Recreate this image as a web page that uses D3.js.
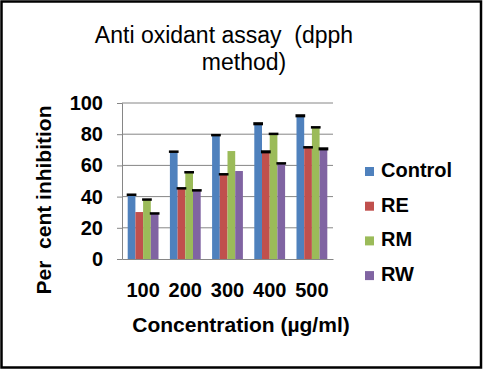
<!DOCTYPE html>
<html>
<head>
<meta charset="utf-8">
<script src="https://cdn.jsdelivr.net/npm/d3@7"></script>
<style>
  body { margin: 0; background: #fff; }
  svg { display: block; font-family: Arial, "Liberation Sans", sans-serif; }
  text { white-space: pre; }
</style>
</head>
<body>
<script>
// Datos
const categories = ["100", "200", "300", "400", "500"];
const seriesNames = ["Control", "RE", "RM", "RW"];
const control = [41.2, 68.8, 79.4, 86.7, 91.8];
const re = [30.1, 45.3, 54.3, 68.7, 71.6];
const rm = [38.1, 55.6, 69.2, 80.2, 84.4];
const rw = [29.2, 44.0, 56.4, 61.3, 70.6];
// barras de error (pequeñas), 0 = sin barra
const controlErr = [0.8, 0.8, 0.8, 1.0, 1.0];
const reErr = [0, 0.8, 0.8, 1.0, 0.8];
const rmErr = [0.8, 0.8, 0, 0.8, 0.8];
const rwErr = [0.8, 0.8, 0, 0.8, 1.0];
const yTicks = [0, 20, 40, 60, 80, 100];

const colors = ["#4F81BD", "#C0504D", "#9BBB59", "#8064A2"];
const allValues = [control, re, rm, rw];
const allErrs = [controlErr, reErr, rmErr, rwErr];

const width = 484;
const height = 371;
const plot = { left: 122, right: 333, top: 103, bottom: 259 };
const font = "Arial, 'Liberation Sans', sans-serif";

const svg = d3.select("body").append("svg")
  .attr("width", width)
  .attr("height", height);

// Borde exterior
svg.append("rect")
  .attr("x", 1.5).attr("y", 1.5)
  .attr("width", 479.5).attr("height", 366)
  .attr("fill", "#fff")
  .attr("stroke", "#000")
  .attr("stroke-width", 2.5);

const x0 = d3.scaleBand()
  .domain(categories)
  .range([plot.left, plot.right])
  .paddingInner(0.27)
  .paddingOuter(0.135);

const x1 = d3.scaleBand()
  .domain(seriesNames)
  .range([0, x0.bandwidth()]);

const y = d3.scaleLinear()
  .domain([0, 100])
  .range([plot.bottom, plot.top]);

// Líneas de cuadrícula
svg.append("g")
  .selectAll("line")
  .data(yTicks.filter(d => d > 0))
  .enter()
  .append("line")
  .attr("x1", plot.left).attr("x2", plot.right)
  .attr("y1", d => y(d)).attr("y2", d => y(d))
  .attr("stroke", "#868686")
  .attr("stroke-width", 1);

// Eje Y
const yAxis = svg.append("g")
  .attr("transform", `translate(${plot.left},0)`)
  .call(d3.axisLeft(y).tickValues(yTicks).tickSize(5).tickPadding(14));
yAxis.select(".domain").attr("stroke", "#868686");
yAxis.selectAll(".tick line").attr("stroke", "#868686");
yAxis.selectAll("text")
  .attr("font-size", 20)
  .attr("font-weight", "bold")
  .attr("fill", "#000")
  .style("font-family", font);

// Eje X
const xAxis = svg.append("g")
  .attr("transform", `translate(0,${plot.bottom})`)
  .call(d3.axisBottom(x0).tickSize(0).tickPadding(24).tickSizeOuter(0));
xAxis.select(".domain").attr("stroke", "#868686");
xAxis.selectAll("text")
  .attr("font-size", 20)
  .attr("font-weight", "bold")
  .attr("fill", "#000")
  .style("font-family", font);

// Barras
const groups = svg.append("g")
  .selectAll("g")
  .data(categories)
  .enter()
  .append("g")
  .attr("transform", d => `translate(${x0(d)},0)`);

groups.selectAll("rect.bar")
  .data((d, i) => seriesNames.map((s, j) => ({ s, v: allValues[j][i], c: colors[j] })))
  .enter()
  .append("rect")
  .attr("class", "bar")
  .attr("x", d => x1(d.s))
  .attr("y", d => y(d.v))
  .attr("width", x1.bandwidth())
  .attr("height", d => y(0) - y(d.v))
  .attr("fill", d => d.c);

// Barras de error
groups.selectAll("rect.err")
  .data((d, i) => seriesNames.map((s, j) => ({ s, v: allValues[j][i], e: allErrs[j][i] })).filter(d => d.e > 0))
  .enter()
  .append("rect")
  .attr("class", "err")
  .attr("x", d => x1(d.s) - 1)
  .attr("y", d => y(d.v + d.e))
  .attr("width", x1.bandwidth() + 2)
  .attr("height", d => y(d.v - d.e) - y(d.v + d.e))
  .attr("fill", "#000");

// Título
svg.append("text")
  .attr("x", 224).attr("y", 43)
  .attr("text-anchor", "middle")
  .attr("font-size", 23)
  .text("Anti oxidant assay  (dpph");
svg.append("text")
  .attr("x", 244).attr("y", 70)
  .attr("text-anchor", "middle")
  .attr("font-size", 23)
  .text("method)");

// Títulos de ejes
svg.append("text")
  .attr("transform", "translate(51,200) rotate(-90)")
  .attr("text-anchor", "middle")
  .attr("font-size", 21)
  .attr("font-weight", "bold")
  .text("Per  cent inhibition");

svg.append("text")
  .attr("x", 241)
  .attr("y", 332)
  .attr("text-anchor", "middle")
  .attr("font-size", 21)
  .attr("font-weight", "bold")
  .text("Concentration (µg/ml)");

// Leyenda
const legend = svg.append("g")
  .selectAll("g")
  .data(seriesNames)
  .enter()
  .append("g")
  .attr("transform", (d, i) => `translate(365,${167 + i * 34.7})`);

legend.append("rect")
  .attr("width", 9).attr("height", 9)
  .attr("fill", (d, i) => colors[i]);

legend.append("text")
  .attr("x", 16)
  .attr("y", 10)
  .attr("font-size", 20)
  .attr("font-weight", "bold")
  .text(d => d);
</script>
</body>
</html>
